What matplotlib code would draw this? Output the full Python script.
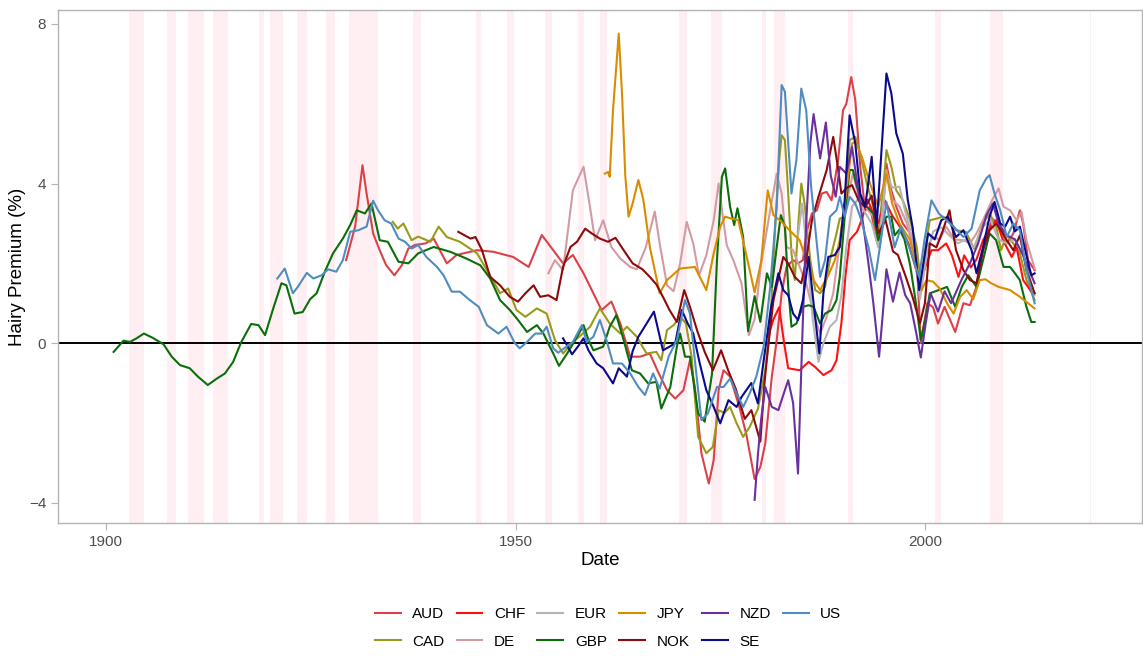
import matplotlib
matplotlib.use('Agg')
import matplotlib.pyplot as plt

plt.rcParams['font.family'] = ['Liberation Sans', 'DejaVu Sans']

# US recessions (NBER peak, trough) used as shading
rec_start = [1902.75, 1907.42, 1910.0, 1913.0, 1918.67, 1920.0, 1923.33, 1926.83, 1929.67,
             1937.42, 1945.17, 1948.92, 1953.58, 1957.67, 1960.33, 1969.99, 1973.92,
             1980.08, 1981.58, 1990.58, 2001.25, 2007.99, 2020.17]
rec_end = [1904.67, 1908.5, 1912.0, 1914.92, 1919.25, 1921.58, 1924.58, 1927.92, 1933.25,
           1938.5, 1945.83, 1949.83, 1954.42, 1958.33, 1961.17, 1970.92, 1975.25,
           1980.58, 1982.92, 1991.25, 2001.92, 2009.5, 2020.33]

aud_x = [1929.3, 1930.4, 1931.3, 1931.8, 1932.6, 1933.4, 1934.2, 1935.2, 1936.1, 1936.9, 1937.7,
         1939.0, 1940.0, 1941.6, 1942.8, 1945.3, 1947.3, 1949.7, 1951.6, 1953.2, 1954.6, 1955.8,
         1957.0, 1958.3, 1959.5, 1960.5, 1961.7, 1962.8, 1964.0, 1965.2, 1966.4, 1967.4, 1968.5,
         1969.5, 1970.5, 1971.3, 1971.9, 1972.7, 1973.6, 1974.2, 1974.8, 1975.4, 1976.2, 1977.4,
         1978.2, 1979.2, 1979.9, 1980.5, 1981.3, 1981.9, 1982.5, 1983.1, 1983.9, 1984.5, 1985.1,
         1985.5, 1986.2, 1986.8, 1987.4, 1988.0, 1988.6, 1989.4, 1990.0, 1990.4, 1991.0, 1991.5,
         1992.1, 1992.7, 1993.3, 1994.1, 1994.7, 1995.3, 1995.9, 1996.5, 1997.3, 1998.2, 1999.0,
         1999.5, 2000.3, 2001.0, 2001.6, 2002.4, 2003.7, 2004.7, 2005.5, 2006.3, 2007.1, 2008.2,
         2009.0, 2010.0, 2010.8, 2011.6, 2012.0, 2012.6, 2013.4]
aud_y = [2.08, 2.92, 4.46, 3.75, 2.75, 2.33, 1.95, 1.7, 1.95, 2.37, 2.46,
         2.5, 2.62, 2.0, 2.21, 2.33, 2.29, 2.16, 1.91, 2.71, 2.33, 2.0,
         2.21, 1.75, 1.25, 0.83, 1.04, 0.49, -0.34, -0.34, -0.26, -0.72, -1.18,
         -1.39, -1.18, -0.43, -1.1, -2.76, -3.52, -2.93, -1.18, -0.68, -0.84, -1.65,
         -2.3, -3.41, -3.1, -2.51, -0.84, 0.08, 1.25, 1.91, 2.08, 2.0, 2.08,
         2.75, 3.25, 3.33, 3.75, 3.79, 3.58, 4.59, 5.84, 6.0, 6.67, 6.09,
         4.42, 3.33, 3.42, 2.58, 3.08, 4.5, 3.83, 3.42, 3.0, 2.75, 2.08,
         0.0, 1.0, 0.9, 0.49, 0.91, 0.28, 1.0, 0.95, 1.41, 2.33, 3.12,
         3.0, 2.5, 2.75, 3.33, 3.0, 2.08, 1.83]

cad_x = [1935.0, 1935.6, 1936.3, 1937.3, 1938.1, 1939.6, 1940.6, 1941.6, 1943.2, 1945.3, 1946.5,
         1948.1, 1949.1, 1950.1, 1951.2, 1952.6, 1953.8, 1954.8, 1955.8, 1957.0, 1958.0, 1959.1,
         1960.3, 1961.5, 1962.8, 1963.6, 1964.8, 1966.0, 1967.2, 1967.8, 1968.5, 1969.3, 1970.1,
         1970.8, 1971.5, 1972.3, 1973.3, 1974.1, 1974.8, 1975.5, 1976.2, 1977.0, 1977.8, 1978.6,
         1979.6, 1980.5, 1981.1, 1981.7, 1982.2, 1982.5, 1982.9, 1983.3, 1983.7, 1984.1, 1984.6,
         1984.9, 1985.3, 1986.0, 1986.6, 1987.2, 1987.8, 1988.4, 1989.2, 1989.6, 1990.2, 1990.8,
         1991.5, 1992.1, 1992.9, 1993.7, 1994.3, 1994.9, 1995.3, 1995.9, 1996.5, 1997.3, 1998.2,
         1999.0, 1999.5, 2000.0, 2000.6, 2001.4, 2002.2, 2003.0, 2003.8, 2005.0, 2006.0, 2007.1,
         2007.9, 2008.7, 2009.3, 2010.0, 2010.8, 2011.6, 2012.4, 2013.4]
cad_y = [3.04, 2.87, 3.0, 2.58, 2.67, 2.54, 2.92, 2.66, 2.54, 2.25, 1.83,
         1.25, 1.37, 0.83, 0.66, 0.87, 0.74, 0.08, -0.26, 0.03, 0.2, 0.41,
         0.87, 0.49, 0.24, 0.41, 0.16, -0.26, -0.22, -0.43, 0.33, 0.45, 0.66,
         0.5, -0.34, -2.35, -2.76, -2.6, -1.68, -1.75, -1.6, -2.01, -2.35, -2.1,
         -1.65, -0.68, 0.41, 2.92, 4.59, 5.21, 5.09, 3.75, 2.25, 1.58, 3.17,
         4.0, 3.5, 2.08, 1.33, 1.25, 1.41, 2.08, 2.75, 3.12, 3.17, 5.09,
         5.17, 4.75, 4.0, 3.42, 2.75, 3.83, 4.84, 4.42, 3.83, 3.58, 3.08,
         2.41, 1.5, 2.33, 3.08, 3.12, 3.17, 3.08, 2.83, 2.79, 2.37, 3.0,
         3.25, 2.92, 2.33, 2.71, 2.5, 2.25, 1.58, 1.08]

chf_x = [1980.9, 1981.5, 1982.2, 1982.8, 1983.3, 1984.7, 1985.8, 1986.6, 1987.6, 1988.6, 1989.2,
         1989.8, 1990.3, 1990.8, 1991.7, 1992.3, 1993.0, 1993.6, 1994.3, 1995.1, 1996.0, 1997.0,
         1998.0, 1999.4, 2000.2, 2000.8, 2001.6, 2002.6, 2003.3, 2004.1, 2004.8, 2005.6, 2006.3,
         2007.1, 2008.0, 2008.7, 2009.5, 2010.6, 2011.2, 2012.0, 2013.0, 2013.4]
chf_y = [0.2, 0.6, 0.9, 0.0, -0.63, -0.68, -0.47, -0.6, -0.8, -0.68, -0.43,
         0.5, 1.7, 2.58, 2.79, 3.1, 3.6, 3.3, 3.0, 3.58, 3.2, 2.9,
         2.5, 1.5, 2.0, 2.33, 2.33, 2.5, 2.2, 1.66, 2.2, 1.9, 2.1,
         2.58, 2.9, 3.08, 2.6, 2.16, 2.4, 1.58, 1.29, 1.25]

de_x = [1954.0, 1954.8, 1955.8, 1957.0, 1958.3, 1959.1, 1959.7, 1960.7, 1961.7, 1962.8, 1964.0,
        1964.8, 1965.9, 1967.0, 1967.6, 1968.5, 1969.3, 1970.1, 1970.9, 1971.7, 1972.4, 1973.3,
        1974.2, 1974.8, 1975.3, 1975.8, 1976.6, 1977.6, 1978.5, 1979.2, 1980.0, 1981.1, 1981.9,
        1982.5, 1983.1, 1983.9, 1984.7, 1985.5, 1986.4, 1987.2, 1988.0, 1988.8, 1989.6, 1990.4,
        1991.2, 1992.0, 1992.8, 1993.7, 1994.5, 1995.3, 1996.0, 1996.9, 1997.8, 1998.6, 1999.4,
        2000.2, 2001.0, 2001.8, 2002.6, 2003.6, 2004.7, 2005.5, 2006.3, 2007.3, 2008.2, 2009.0,
        2009.6, 2010.4, 2011.2, 2011.8, 2012.4, 2013.4]
de_y = [1.75, 2.08, 1.83, 3.83, 4.42, 3.4, 2.58, 3.08, 2.41, 2.12, 1.91,
        1.85, 2.4, 3.3, 2.5, 1.45, 1.3, 2.0, 3.04, 2.5, 1.7, 2.2,
        3.08, 4.0, 3.2, 2.45, 2.08, 1.5, 0.2, 0.6, 2.0, 3.33, 4.25,
        3.75, 2.41, 2.33, 1.91, 1.5, 0.74, 0.24, 0.66, 1.25, 2.5, 3.5,
        4.25, 3.6, 3.4, 3.17, 2.41, 4.34, 3.6, 3.42, 3.0, 2.3, 1.33,
        2.41, 2.66, 2.6, 2.92, 2.6, 2.58, 2.5, 2.75, 3.17, 3.58, 3.88,
        3.42, 3.33, 3.08, 3.29, 2.58, 1.87]

eur_x = [1984.5, 1985.0, 1985.6, 1986.3, 1987.0, 1987.6, 1988.4, 1989.2, 1989.8, 1990.4, 1991.1,
         1991.8, 1992.6, 1993.5, 1994.3, 1995.3, 1996.0, 1996.9, 1997.6, 1998.5, 1999.4, 2000.2,
         2001.0, 2002.0, 2003.0, 2004.0, 2005.0, 2006.0, 2007.0, 2008.0, 2009.0, 2010.0, 2011.0,
         2012.0, 2013.4]
eur_y = [2.7, 3.5, 2.3, 0.6, -0.47, 0.0, 0.41, 0.58, 1.2, 2.4, 3.42,
         3.6, 3.3, 3.0, 2.4, 4.25, 3.9, 3.92, 3.3, 2.6, 1.1, 2.2,
         2.8, 2.9, 2.7, 2.5, 2.6, 2.4, 2.9, 3.1, 2.6, 2.5, 2.6,
         2.2, 1.2]

gbp_x = [1900.9, 1902.1, 1902.9, 1903.7, 1904.6, 1905.7, 1907.0, 1908.0, 1909.0, 1910.2, 1911.2,
         1912.4, 1913.5, 1914.5, 1915.5, 1916.5, 1917.7, 1918.6, 1919.4, 1920.4, 1921.4, 1922.0,
         1923.0, 1924.0, 1924.9, 1925.7, 1926.7, 1927.7, 1928.9, 1929.8, 1930.6, 1931.6, 1932.4,
         1933.4, 1934.4, 1935.7, 1936.9, 1938.1, 1940.0, 1942.0, 1944.0, 1945.7, 1946.9, 1948.1,
         1949.3, 1950.3, 1951.4, 1952.6, 1953.4, 1954.6, 1955.3, 1956.3, 1957.3, 1958.3, 1958.9,
         1959.5, 1960.7, 1961.5, 1962.3, 1963.2, 1964.2, 1965.2, 1966.2, 1967.2, 1967.8, 1968.9,
         1969.7, 1970.1, 1970.7, 1971.3, 1972.3, 1973.1, 1974.0, 1974.6, 1975.2, 1975.6, 1976.2,
         1976.7, 1977.1, 1977.8, 1978.4, 1979.2, 1979.9, 1980.7, 1981.3, 1981.9, 1982.4, 1982.9,
         1983.3, 1983.7, 1984.3, 1985.1, 1985.8, 1986.4, 1987.2, 1987.8, 1988.6, 1989.2, 1989.6,
         1990.2, 1990.8, 1991.2, 1991.7, 1992.5, 1993.1, 1993.7, 1994.3, 1994.9, 1995.3, 1995.9,
         1996.3, 1996.9, 1997.5, 1998.2, 1999.0, 1999.5, 2000.1, 2000.6, 2001.7, 2002.7, 2003.7,
         2004.5, 2005.3, 2006.3, 2007.1, 2007.9, 2008.7, 2009.6, 2010.4, 2011.0, 2011.6, 2012.4,
         2013.0, 2013.4]
gbp_y = [-0.22, 0.06, 0.03, 0.12, 0.24, 0.13, -0.03, -0.34, -0.55, -0.63, -0.84,
         -1.05, -0.89, -0.76, -0.47, 0.03, 0.48, 0.45, 0.2, 0.87, 1.5, 1.45,
         0.74, 0.78, 1.1, 1.25, 1.79, 2.25, 2.62, 2.96, 3.33, 3.25, 3.5,
         2.58, 2.54, 2.04, 2.0, 2.25, 2.41, 2.29, 2.12, 1.95, 1.62, 1.08,
         0.83, 0.58, 0.28, 0.45, 0.24, -0.26, -0.57, -0.26, 0.08, 0.45, 0.08,
         -0.18, -0.09, 0.41, 0.7, 0.08, -0.68, -0.76, -1.01, -0.97, -1.64, -1.1,
         -0.09, 0.24, -0.34, -0.34, -1.76, -1.97, -0.76, 2.08, 4.17, 4.38, 3.42,
         2.96, 3.38, 2.66, 0.3, 1.18, 0.53, 1.75, 1.41, 2.41, 3.21, 2.92,
         1.41, 0.41, 0.49, 0.91, 0.95, 0.91, 0.49, 0.74, 0.83, 1.08, 1.66,
         3.17, 4.34, 4.34, 3.92, 3.5, 3.38, 3.25, 2.58, 3.0, 3.17, 3.17,
         2.7, 2.85, 2.6, 1.95, 0.87, 0.08, 0.65, 1.25, 1.33, 1.41, 0.91,
         1.41, 1.7, 1.41, 2.08, 2.75, 2.58, 1.91, 1.91, 1.75, 1.58, 0.91,
         0.53, 0.53]

jpy_x = [1960.9, 1961.3, 1961.5, 1961.9, 1962.6, 1963.0, 1963.4, 1963.8, 1964.3, 1965.0, 1965.6,
         1966.4, 1967.6, 1968.5, 1970.1, 1971.9, 1973.3, 1974.2, 1975.0, 1975.6, 1976.4, 1977.2,
         1978.2, 1979.2, 1980.0, 1980.8, 1981.5, 1982.5, 1983.6, 1984.7, 1985.5, 1986.4, 1987.2,
         1988.2, 1989.0, 1989.6, 1990.4, 1991.1, 1991.5, 1992.3, 1993.3, 1994.3, 1995.3, 1996.0,
         1996.9, 1998.2, 1999.0, 1999.6, 2000.2, 2001.0, 2001.8, 2002.7, 2003.5, 2004.3, 2005.1,
         2005.9, 2006.7, 2007.4, 2008.1, 2009.0, 2010.4, 2011.6, 2012.6, 2013.4]
jpy_y = [4.25, 4.29, 4.17, 5.84, 7.76, 6.26, 4.2, 3.17, 3.5, 4.09, 3.6,
         2.41, 1.25, 1.58, 1.87, 1.91, 1.33, 2.25, 2.92, 3.17, 3.12, 3.08,
         2.2, 1.27, 2.05, 3.83, 3.21, 3.04, 2.8, 2.58, 2.08, 1.58, 1.33,
         1.7, 2.08, 2.58, 3.8, 5.0, 5.05, 4.67, 4.0, 3.42, 4.25, 3.5,
         3.0, 2.58, 1.91, 1.33, 1.58, 1.54, 1.37, 1.0, 0.74, 1.16, 1.33,
         1.1, 1.58, 1.6, 1.5, 1.41, 1.33, 1.16, 1.0, 0.87]

nok_x = [1943.0, 1944.5, 1945.1, 1945.9, 1946.9, 1948.1, 1949.3, 1950.3, 1951.2, 1952.2, 1953.0,
         1954.0, 1955.0, 1955.8, 1956.7, 1957.5, 1958.5, 1959.3, 1960.3, 1961.3, 1962.2, 1963.2,
         1964.3, 1965.5, 1966.4, 1967.2, 1968.0, 1968.8, 1969.7, 1970.6, 1971.3, 1972.2, 1973.1,
         1974.1, 1975.1, 1976.0, 1976.9, 1978.0, 1978.8, 1979.9, 1980.4, 1980.9, 1981.5, 1982.7,
         1983.3, 1984.1, 1984.9, 1985.5, 1986.2, 1987.0, 1988.0, 1988.8, 1989.3, 1989.8, 1990.5,
         1991.1, 1991.9, 1992.7, 1993.5, 1994.3, 1995.2, 1996.1, 1996.7, 1997.6, 1998.5, 1999.4,
         2000.0, 2000.6, 2001.4, 2002.2, 2003.0, 2003.8, 2004.7, 2005.5, 2006.3, 2007.1, 2007.9,
         2008.7, 2009.4, 2010.0, 2010.8, 2011.6, 2012.4, 2013.4]
nok_y = [2.79, 2.62, 2.66, 2.33, 1.66, 1.45, 1.16, 1.04, 1.25, 1.45, 1.16,
         1.2, 1.08, 1.91, 2.41, 2.54, 2.87, 2.75, 2.62, 2.54, 2.64, 2.33,
         2.0, 1.85, 1.66, 1.47, 1.16, 0.83, 0.53, 1.33, 0.91, 0.3, -0.22,
         -0.68, -0.18, -0.7, -1.15, -1.9, -1.68, -2.47, -1.0, 0.0, 1.08, 2.16,
         2.0, 1.66, 1.5, 2.08, 3.08, 3.67, 4.34, 5.17, 4.5, 3.75, 3.9,
         3.96, 3.58, 3.4, 3.7, 2.75, 3.08, 2.3, 2.21, 1.7, 1.15, 0.5,
         1.0, 2.5, 2.4, 2.83, 3.33, 2.33, 1.83, 1.58, 1.5, 2.33, 2.83,
         3.0, 2.8, 2.58, 2.33, 2.7, 1.83, 1.25]

nzd_x = [1979.2, 1979.6, 1980.0, 1980.5, 1981.3, 1982.1, 1982.7, 1983.3, 1983.9, 1984.5, 1985.0,
         1985.5, 1986.0, 1986.4, 1987.2, 1987.9, 1988.5, 1989.1, 1989.6, 1990.4, 1991.1, 1991.8,
         1992.5, 1993.1, 1993.7, 1994.4, 1994.8, 1995.3, 1996.1, 1996.9, 1997.6, 1998.2, 1998.9,
         1999.5, 2000.1, 2000.7, 2001.6, 2002.4, 2003.2, 2004.5, 2005.5, 2006.5, 2007.5, 2008.3,
         2009.0, 2010.0, 2011.0, 2012.0, 2013.4]
nzd_y = [-3.93, -2.8, -1.9, -1.1, -1.6, -1.68, -1.3, -0.93, -1.5, -3.27, 0.0,
         3.0, 5.0, 5.74, 4.63, 5.53, 4.2, 3.67, 4.42, 4.25, 4.92, 3.9,
         2.92, 2.0, 1.0, -0.34, 0.6, 1.85, 1.04, 1.77, 1.2, 1.0, 0.3,
         -0.36, 0.5, 1.25, 0.79, 1.3, 1.0, 1.6, 2.0, 2.5, 3.2, 3.5,
         3.0, 2.7, 2.6, 2.2, 1.5]

se_x = [1955.8, 1956.9, 1957.6, 1958.3, 1958.9, 1959.9, 1960.7, 1961.9, 1962.6, 1963.6, 1964.3,
        1965.0, 1966.0, 1966.9, 1968.0, 1968.8, 1969.5, 1970.3, 1971.0, 1971.7, 1972.5, 1973.3,
        1974.2, 1975.0, 1976.0, 1977.0, 1977.6, 1978.8, 1979.6, 1980.4, 1981.2, 1982.1, 1982.7,
        1983.3, 1983.9, 1984.5, 1985.1, 1985.8, 1986.4, 1987.1, 1987.6, 1988.2, 1989.0, 1989.6,
        1990.2, 1990.8, 1991.5, 1992.1, 1992.7, 1993.5, 1994.1, 1995.3, 1995.9, 1996.5, 1997.3,
        1997.9, 1998.5, 1999.3, 2000.4, 2001.2, 2002.0, 2002.8, 2003.8, 2004.7, 2005.7, 2006.3,
        2007.1, 2007.9, 2008.5, 2009.2, 2009.8, 2010.4, 2011.0, 2011.6, 2012.4, 2013.0, 2013.4]
se_y = [0.12, -0.28, -0.09, 0.12, -0.18, -0.51, -0.63, -1.01, -0.63, -0.84, -0.2,
        0.16, 0.49, 0.79, -0.18, -0.09, 0.0, 0.83, 0.5, 0.24, -0.51, -1.18,
        -1.6, -2.01, -1.43, -1.6, -1.35, -1.0, -1.51, -0.3, 0.9, 1.75, 1.33,
        1.2, 0.74, 0.58, 1.08, 2.16, 1.0, -0.26, 1.25, 2.16, 2.21, 2.41,
        3.58, 5.71, 5.0, 3.75, 3.42, 4.67, 2.92, 6.76, 6.26, 5.26, 4.75,
        3.6, 2.9, 1.33, 2.75, 2.6, 3.08, 3.17, 2.66, 2.83, 2.33, 1.75,
        2.41, 3.17, 3.54, 3.0, 2.92, 3.17, 2.8, 2.92, 2.2, 1.7, 1.75]

us_x = [1920.9, 1921.8, 1922.8, 1923.4, 1924.5, 1925.3, 1926.3, 1927.1, 1928.1, 1928.9, 1929.8,
        1930.8, 1931.8, 1932.6, 1933.2, 1934.0, 1934.8, 1935.7, 1936.5, 1937.3, 1938.1, 1939.1,
        1940.4, 1941.2, 1942.2, 1943.2, 1944.4, 1945.5, 1946.5, 1947.9, 1948.9, 1949.9, 1950.5,
        1951.4, 1952.4, 1953.2, 1953.8, 1954.6, 1955.2, 1956.2, 1957.0, 1958.1, 1958.7, 1959.5,
        1960.3, 1961.1, 1961.9, 1963.0, 1964.0, 1965.0, 1965.8, 1966.8, 1967.6, 1968.7, 1969.7,
        1970.7, 1971.3, 1971.9, 1972.7, 1973.5, 1974.6, 1975.4, 1976.2, 1977.0, 1977.8, 1978.6,
        1979.4, 1980.3, 1981.1, 1981.9, 1982.5, 1982.9, 1983.7, 1984.3, 1984.9, 1985.5, 1986.1,
        1987.2, 1987.8, 1988.4, 1989.2, 1989.6, 1990.2, 1990.8, 1991.5, 1992.1, 1993.1, 1993.9,
        1994.5, 1995.3, 1996.3, 1997.1, 1998.2, 1999.3, 2000.0, 2000.8, 2001.7, 2002.4, 2003.5,
        2004.7, 2005.7, 2006.7, 2007.5, 2007.9, 2008.5, 2009.2, 2010.0, 2010.8, 2011.6, 2012.4,
        2013.4]
us_y = [1.62, 1.87, 1.25, 1.41, 1.76, 1.62, 1.7, 1.85, 1.79, 2.08, 2.79,
        2.83, 2.92, 3.57, 3.33, 3.08, 3.0, 2.62, 2.54, 2.37, 2.46, 2.16,
        1.91, 1.7, 1.29, 1.29, 1.08, 0.91, 0.45, 0.24, 0.41, 0.0, -0.13,
        0.03, 0.24, 0.24, 0.41, -0.13, -0.24, -0.09, 0.03, 0.45, 0.03, 0.16,
        0.58, 0.08, -0.51, -0.51, -0.76, -1.1, -1.3, -0.76, -1.14, -0.34, 0.08,
        1.08, 0.74, -0.43, -1.93, -1.76, -1.1, -1.1, -0.89, -1.26, -1.6, -1.26,
        -0.84, -0.09, 1.41, 3.42, 6.47, 6.3, 3.75, 4.59, 6.38, 5.84, 3.92,
        1.66, 2.08, 3.17, 3.33, 3.67, 3.17, 3.67, 3.5, 3.17, 2.41, 1.58,
        2.41, 3.54, 2.4, 2.92, 2.33, 1.66, 2.66, 3.58, 3.25, 3.12, 2.92,
        2.66, 2.87, 3.83, 4.13, 4.21, 3.75, 3.33, 2.66, 3.0, 2.83, 1.83,
        1.0]

series = [
    ("AUD", aud_x, aud_y, "#DC4048"),
    ("CAD", cad_x, cad_y, "#9A9A1A"),
    ("CHF", chf_x, chf_y, "#FF1010"),
    ("DE", de_x, de_y, "#D49AA4"),
    ("EUR", eur_x, eur_y, "#B4B4B4"),
    ("GBP", gbp_x, gbp_y, "#0A6E0A"),
    ("JPY", jpy_x, jpy_y, "#D98C00"),
    ("NOK", nok_x, nok_y, "#8E0A0A"),
    ("NZD", nzd_x, nzd_y, "#6A30A0"),
    ("SE", se_x, se_y, "#0A0A8E"),
    ("US", us_x, us_y, "#4F8CC0"),
]

fig = plt.figure(figsize=(11.43, 6.56), dpi=100)
ax = fig.add_axes([0.0507, 0.2027, 0.9483, 0.782])

for s, e in zip(rec_start, rec_end):
    ax.axvspan(s, e, color="#FFEFF2", lw=0, zorder=0)

ax.axhline(0, color="black", lw=1.4, zorder=1)

for name, xs, ys, col in series:
    ax.plot(xs, ys, color=col, lw=1.5, label=name, zorder=2)

ax.set_xlim(1894.1, 2026.5)
ax.set_ylim(-4.51, 8.35)
ax.set_xticks([1900, 1950, 2000])
ax.set_yticks([-4, 0, 4, 8])
ax.set_yticklabels(["\u22124", "0", "4", "8"])
ax.tick_params(axis="both", colors="#B3B3B3", length=5, width=0.8, labelsize=11,
               labelcolor="#4D4D4D")
for sp in ax.spines.values():
    sp.set_color("#B3B3B3")
    sp.set_linewidth(1.0)

ax.set_xlabel("Date", fontsize=13.5, labelpad=2)
ax.set_ylabel("Hairy Premium (%)", fontsize=13.5, labelpad=2)

fig.legend(loc="center", bbox_to_anchor=(0.532, 0.043), ncol=6, frameon=False,
           fontsize=11, handlelength=1.7, handletextpad=0.75, columnspacing=0.8,
           labelspacing=0.9)

plt.savefig("out.png", dpi=100)
plt.close()
